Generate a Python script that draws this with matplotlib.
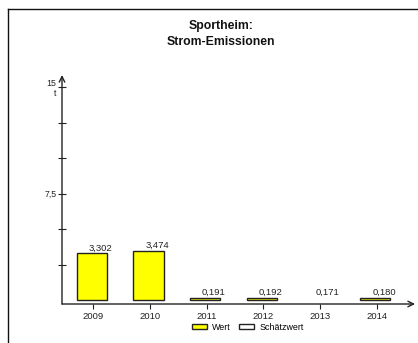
import matplotlib
matplotlib.use("Agg")
import matplotlib.pyplot as plt
from matplotlib.patches import Patch
from matplotlib.lines import Line2D

plt.rcParams['font.family'] = ['Liberation Sans', 'DejaVu Sans']

years = ["2009", "2010", "2011", "2012", "2013", "2014"]
values = [3.302, 3.474, 0.191, 0.192, 0.171, 0.180]
drawn = [True, True, True, True, False, True]
title = "Sportheim:\nStrom-Emissionen"
ytick_vals = [2.5, 5, 7.5, 10, 12.5, 15]
ytick_labels = ["", "", "7,5", "", "", "15\nt"]
legend_labels = ["Wert", "Schätzwert"]

W, H = 418, 343
fig = plt.figure(figsize=(W / 100, H / 100), dpi=100)
ax = fig.add_axes([62 / W, (H - 304) / H, 353 / W, 229 / H])

x = list(range(len(years)))
for xi, v, d in zip(x, values, drawn):
    if d:
        ax.bar(xi - 0.025, v, width=0.53, color="#ffff00", edgecolor="#222222", linewidth=1.0)
    ax.text(xi + 0.13, v + 0.05, f"{v:.3f}".replace(".", ","), ha="center", va="bottom",
            fontsize=6.8, color="#222222")

ax.set_xlim(-0.55, 5.675)
ax.set_ylim(-0.25, 15.84)
for s in ax.spines.values():
    s.set_visible(False)

ax.set_xticks(x)
ax.set_xticklabels(years, fontsize=6.8, color="#222222")
ax.tick_params(axis="x", direction="out", length=3.5, width=0.8, pad=2, color="#222222")
ax.set_yticks(ytick_vals)
ax.set_yticklabels(ytick_labels, fontsize=6.3, color="#222222", linespacing=1.1)
ax.tick_params(axis="y", direction="inout", length=6, width=0.8, pad=1, color="#222222")

# axes with arrows
ax.annotate("", xy=(1.0, 0), xytext=(0, 0), xycoords="axes fraction",
            arrowprops=dict(arrowstyle="->", lw=1.0, color="#222222", mutation_scale=10,
                            shrinkA=0, shrinkB=0))
ax.annotate("", xy=(0, 1.0), xytext=(0, 0), xycoords="axes fraction",
            arrowprops=dict(arrowstyle="->", lw=1.0, color="#222222", mutation_scale=10,
                            shrinkA=0, shrinkB=0))

fig.text(221 / W, 1 - 34 / H, title, ha="center", va="center", fontsize=8.8,
         fontweight="bold", linespacing=1.45, color="#111111")

handles = [Patch(facecolor="#ffff00", edgecolor="#222222", linewidth=1.0),
           Patch(facecolor="white", edgecolor="#222222", linewidth=1.0)]
fig.legend(handles, legend_labels, loc="center", bbox_to_anchor=(248 / W, 1 - 327 / H),
           ncol=2, frameon=False, fontsize=6.4, handlelength=1.7, handleheight=0.45,
           handletextpad=0.6, columnspacing=0.9, borderpad=0, borderaxespad=0)

fig.add_artist(Line2D([8 / W, 1], [1 - 9 / H, 1 - 9 / H], color="#111111", lw=1.0))
fig.add_artist(Line2D([8 / W, 8 / W], [1 - 9 / H, 0], color="#111111", lw=1.0))

fig.savefig("out.png", dpi=100)
